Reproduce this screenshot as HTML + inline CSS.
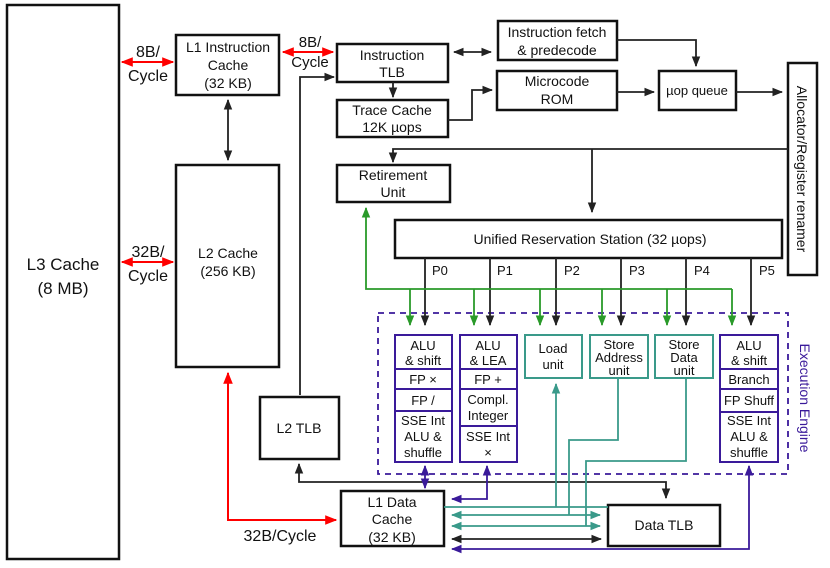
<!DOCTYPE html>
<html><head><meta charset="utf-8"><style>
html,body{margin:0;padding:0;background:#fff}
svg{display:block}
text{font-family:"Liberation Sans",sans-serif;fill:#111}
</style></head><body>
<svg width="830" height="568" viewBox="0 0 830 568" xmlns="http://www.w3.org/2000/svg">
<defs>
<marker id="k" viewBox="0 0 10 10" refX="9" refY="5" markerWidth="6" markerHeight="6" orient="auto-start-reverse"><path d="M0,1 L10,5 L0,9 z" fill="#222"/></marker>
<marker id="r" viewBox="0 0 10 10" refX="9" refY="5" markerWidth="6" markerHeight="6" orient="auto-start-reverse"><path d="M0,1 L10,5 L0,9 z" fill="#f00"/></marker>
<marker id="g" viewBox="0 0 10 10" refX="9" refY="5" markerWidth="6" markerHeight="6" orient="auto-start-reverse"><path d="M0,1 L10,5 L0,9 z" fill="#2a9a2a"/></marker>
<marker id="t" viewBox="0 0 10 10" refX="9" refY="5" markerWidth="6" markerHeight="6" orient="auto-start-reverse"><path d="M0,1 L10,5 L0,9 z" fill="#3a9a8a"/></marker>
<marker id="p" viewBox="0 0 10 10" refX="9" refY="5" markerWidth="6" markerHeight="6" orient="auto-start-reverse"><path d="M0,1 L10,5 L0,9 z" fill="#3a1a9a"/></marker>
</defs>
<g fill="#fff" stroke="#111" stroke-width="2.5">
<rect x="7" y="5" width="112" height="554"/>
<rect x="176" y="35" width="103" height="60"/>
<rect x="176" y="165" width="103" height="202"/>
<rect x="260" y="397" width="79" height="62"/>
<rect x="337" y="44" width="111" height="38"/>
<rect x="337" y="100" width="111" height="37"/>
<rect x="498" y="21" width="119" height="39"/>
<rect x="497" y="71" width="120" height="39"/>
<rect x="659" y="71" width="77" height="39"/>
<rect x="788" y="63" width="29" height="212"/>
<rect x="337" y="165" width="113" height="37"/>
<rect x="395" y="220" width="387" height="38"/>
<rect x="341" y="491" width="103" height="55"/>
<rect x="608" y="505" width="112" height="41"/>
</g>
<rect x="378" y="313" width="410" height="161" fill="none" stroke="#3a1a9a" stroke-width="1.8" stroke-dasharray="6,5"/>
<g fill="none" stroke="#3a1a9a" stroke-width="2">
<rect x="395" y="335" width="57" height="127"/><path d="M395 369H452M395 389H452M395 411H452"/>
<rect x="460" y="335" width="57" height="127"/><path d="M460 369H517M460 389H517M460 426H517"/>
<rect x="720" y="335" width="58" height="127"/><path d="M720 369H778M720 389H778M720 412H778"/>
</g>
<g fill="none" stroke="#3a9a8a" stroke-width="2">
<rect x="525" y="335" width="57" height="43"/>
<rect x="590" y="335" width="58" height="43"/>
<rect x="655" y="335" width="58" height="43"/>
</g>
<g fill="none" stroke="#222" stroke-width="1.8">
<path d="M228 100V160" marker-start="url(#k)" marker-end="url(#k)"/>
<path d="M300 395V77H334" marker-end="url(#k)"/>
<path d="M454 52H491" marker-start="url(#k)" marker-end="url(#k)"/>
<path d="M393 82V97" marker-end="url(#k)"/>
<path d="M448 120H472V90H492" marker-end="url(#k)"/>
<path d="M617 40H696V66" marker-end="url(#k)"/>
<path d="M617 92H654" marker-end="url(#k)"/>
<path d="M736 92H782" marker-end="url(#k)"/>
<path d="M788 149H393V162" marker-end="url(#k)"/>
<path d="M592 149V212" marker-end="url(#k)"/>
<path d="M425 258V325" marker-end="url(#k)"/>
<path d="M490 258V325" marker-end="url(#k)"/>
<path d="M556 258V325" marker-end="url(#k)"/>
<path d="M621 258V325" marker-end="url(#k)"/>
<path d="M686 258V325" marker-end="url(#k)"/>
<path d="M751 258V325" marker-end="url(#k)"/>
<path d="M299 464V482H666V498" marker-start="url(#k)" marker-end="url(#k)"/>
<path d="M452 539H601" marker-start="url(#k)" marker-end="url(#k)"/>
</g>
<g fill="none" stroke="#f00" stroke-width="2">
<path d="M122 62H173" marker-start="url(#r)" marker-end="url(#r)"/>
<path d="M283 52H333" marker-start="url(#r)" marker-end="url(#r)"/>
<path d="M122 262H173" marker-start="url(#r)" marker-end="url(#r)"/>
<path d="M228 373V520H336" marker-start="url(#r)" marker-end="url(#r)"/>
</g>
<g fill="none" stroke="#2a9a2a" stroke-width="1.8">
<path d="M366 208V289H732" marker-start="url(#g)"/>
<path d="M410 289V325" marker-end="url(#g)"/>
<path d="M474 289V325" marker-end="url(#g)"/>
<path d="M540 289V325" marker-end="url(#g)"/>
<path d="M602 289V325" marker-end="url(#g)"/>
<path d="M667 289V325" marker-end="url(#g)"/>
<path d="M732 289V325" marker-end="url(#g)"/>
</g>
<g fill="none" stroke="#3a9a8a" stroke-width="1.8">
<path d="M556 507V384" marker-end="url(#t)"/>
<path d="M444 507H608"/>
<path d="M618 378V440H569V515"/>
<path d="M686 378V461H586V526"/>
<path d="M452 515H600" marker-start="url(#t)" marker-end="url(#t)"/>
<path d="M452 526H600" marker-start="url(#t)" marker-end="url(#t)"/>
</g>
<g fill="none" stroke="#3a1a9a" stroke-width="1.8">
<path d="M425 466V488" marker-start="url(#p)" marker-end="url(#p)"/>
<path d="M487 466V499H452" marker-start="url(#p)" marker-end="url(#p)"/>
<path d="M452 549H749V466" marker-start="url(#p)" marker-end="url(#p)"/>
</g>
<g text-anchor="middle" font-size="15">
<text x="63" y="270" font-size="17">L3 Cache</text><text x="63" y="294" font-size="17">(8 MB)</text>
<text x="148" y="57" font-size="16">8B/</text><text x="148" y="81" font-size="16">Cycle</text>
<text x="310" y="47" font-size="15">8B/</text><text x="310" y="67" font-size="15">Cycle</text>
<text x="148" y="257" font-size="16">32B/</text><text x="148" y="281" font-size="16">Cycle</text>
<text x="280" y="541" font-size="16">32B/Cycle</text>
<text x="228" y="52" font-size="14">L1 Instruction</text><text x="228" y="70" font-size="14">Cache</text><text x="228" y="88" font-size="14">(32 KB)</text>
<text x="228" y="258" font-size="14">L2 Cache</text><text x="228" y="276" font-size="14">(256 KB)</text>
<text x="299" y="433" font-size="14">L2 TLB</text>
<text x="392" y="60" font-size="14">Instruction</text><text x="392" y="77" font-size="14">TLB</text>
<text x="392" y="115" font-size="14">Trace Cache</text><text x="392" y="132" font-size="14">12K µops</text>
<text x="557" y="37" font-size="14">Instruction fetch</text><text x="557" y="55" font-size="14">&amp; predecode</text>
<text x="557" y="86" font-size="14">Microcode</text><text x="557" y="104" font-size="14">ROM</text>
<text x="697" y="95" font-size="13">µop queue</text>
<text x="393" y="180" font-size="14">Retirement</text><text x="393" y="197" font-size="14">Unit</text>
<text x="590" y="244" font-size="14">Unified Reservation Station (32 µops)</text>
<text x="392" y="507" font-size="14">L1 Data</text><text x="392" y="524" font-size="14">Cache</text><text x="392" y="542" font-size="14">(32 KB)</text>
<text x="664" y="530" font-size="14">Data TLB</text>
<g font-size="13" text-anchor="start"><text x="432" y="275">P0</text><text x="497" y="275">P1</text><text x="564" y="275">P2</text><text x="629" y="275">P3</text><text x="694" y="275">P4</text><text x="759" y="275">P5</text></g>
<g font-size="13">
<text x="423" y="350">ALU</text><text x="423" y="365">&amp; shift</text><text x="423" y="384">FP ×</text><text x="423" y="405">FP /</text><text x="423" y="425">SSE Int</text><text x="423" y="441">ALU &amp;</text><text x="423" y="457">shuffle</text>
<text x="488" y="350">ALU</text><text x="488" y="365">&amp; LEA</text><text x="488" y="384">FP +</text><text x="488" y="404">Compl.</text><text x="488" y="420">Integer</text><text x="488" y="441">SSE Int</text><text x="488" y="457">×</text>
<text x="553" y="353">Load</text><text x="553" y="369">unit</text>
<text x="619" y="349">Store</text><text x="619" y="362">Address</text><text x="619" y="375">unit</text>
<text x="684" y="349">Store</text><text x="684" y="362">Data</text><text x="684" y="375">unit</text>
<text x="749" y="350">ALU</text><text x="749" y="365">&amp; shift</text><text x="749" y="384">Branch</text><text x="749" y="405">FP Shuff</text><text x="749" y="425">SSE Int</text><text x="749" y="441">ALU &amp;</text><text x="749" y="457">shuffle</text>
</g>
<text transform="translate(797,169) rotate(90)" font-size="14">Allocator/Register renamer</text>
<text transform="translate(800,398) rotate(90)" font-size="14" style="fill:#3a1a9a">Execution Engine</text>
</g>
</svg>
</body></html>
